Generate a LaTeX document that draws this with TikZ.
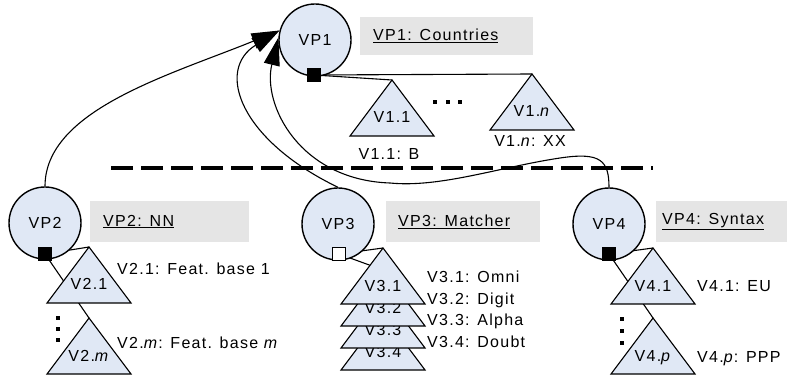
\documentclass[tikz,border=0pt]{standalone}
\usepackage{fontspec}
\setmainfont{Liberation Sans}[LetterSpace=8]
\usetikzlibrary{arrows.meta,calc,backgrounds}
\definecolor{vpfill}{RGB}{224,232,245}
\definecolor{boxgray}{RGB}{229,229,229}

% variant triangle: name, apex, caption
\newcommand\vtri[3]{%
  \coordinate (#1) at #2;
  \filldraw[varbody] (#1) -- ++(42,56) -- ++(-84,0) -- cycle;
  \node[vartext] (#1-name) at ($(#1)+(0,43)$) {#3};}

\begin{document}
\begin{tikzpicture}[x=1pt,y=-1pt,
  font=\fontsize{16}{19}\selectfont,
  vp/.style={circle,draw,fill=vpfill,line width=1.4pt,minimum size=72pt,inner sep=0pt},
  knot/.style={rectangle,draw,fill=black,line width=0.8pt,minimum size=13pt,inner sep=0pt},
  varbody/.style={draw,fill=vpfill,line width=1.1pt,line join=miter},
  vartext/.style={anchor=base,inner sep=0pt},
  lbox/.style={fill=boxgray,align=left,inner ysep=0pt,anchor=north west},
  lab/.style={anchor=base west,inner sep=0pt},
  conn/.style={line width=1.1pt},
  arr/.style={conn,-{Triangle[length=28pt,width=16pt]}},
  sepline/.style={line width=4pt,dash pattern=on 22pt off 8pt},
  dotsq/.style={fill=black}]
\useasboundingbox (0,0) rectangle (787,379);

% separator between the top level and the nested variation points
\coordinate (sepL) at (111,168);
\coordinate (sepR) at (653,168);
\draw[sepline] (sepL) -- (sepR);

% variation points
\node[vp] (vp1) at (315,40) {VP1};
\node[vp] (vp2) at (45,223) {VP2};
\node[vp] (vp3) at (338,224) {VP3};
\node[vp] (vp4) at (609,224) {VP4};

% binding knots
\node[knot] (k1) at (314,75) {};
\node[knot] (k2) at (45,254) {};
\node[knot,fill=white] (k3) at (339,254) {};
\node[knot] (k4) at (609,254) {};

% descriptions
\node[lbox,inner xsep=13pt,text width=147pt,minimum height=38pt] (d1) at (360,17) {\underline{VP1: Countries}};
\node[lbox,inner xsep=13pt,text width=133pt,minimum height=41pt] (d2) at (90,201) {\underline{VP2: NN}};
\node[lbox,inner xsep=12pt,text width=130pt,minimum height=41pt] (d3) at (386,201) {\underline{VP3: Matcher}};
\node[lbox,inner xsep=6pt,text width=119pt,minimum height=41pt] (d4) at (656,201) {\underline{VP4: Syntax}};

% variants
\vtri{v11}{(392,80)}{V1.1}
\vtri{v1n}{(532,74)}{V1.\textit{n}}
\vtri{v21}{(89,247)}{V2.1}
\vtri{v2m}{(89,318)}{V2.\textit{m}}
\vtri{v34}{(383,314)}{V3.4}
\vtri{v33}{(383,292)}{V3.3}
\vtri{v32}{(383,270)}{V3.2}
\vtri{v31}{(383,248)}{V3.1}
\vtri{v41}{(653,248)}{V4.1}
\vtri{v4p}{(653,318)}{V4.\textit{p}}

% variant captions
\node[vartext] (l11) at (389,160) {V1.1: B};
\node[vartext] (l1n) at (530,147) {V1.\textit{n}: XX};
\node[lab] (l21) at (117,275) {V2.1: Feat. base 1};
\node[lab] (l2m) at (117,348) {V2.\textit{m}: Feat. base \textit{m}};
\node[lab] (l31) at (427,283) {V3.1: Omni};
\node[lab] (l32) at (427,304.5) {V3.2: Digit};
\node[lab] (l33) at (427,326) {V3.3: Alpha};
\node[lab] (l34) at (427,347.5) {V3.4: Doubt};
\node[lab] (l41) at (697,291) {V4.1: EU};
\node[lab] (l4p) at (697,362) {V4.\textit{p}: PPP};

% ellipses
\foreach \px/\py in {435/102,448/102,460/102,58/318,58/329,58/340,622/319,622/331,622/343}
  \fill[dotsq] (\px-1.8,\py-1.8) rectangle (\px+1.8,\py+1.8);

% connectors behind the shapes
\begin{scope}[on background layer]
  \draw[conn] (k1.center) -- (v11);
  \draw[conn] (k1.center) -- (v1n);
  \draw[conn] (k2.center) -- (v21);
  \draw[conn] (k2.center) -- (v2m);
  \draw[conn] (k3.center) -- (v31);
  \draw[conn] (k3.center) -- (v32);
  \draw[conn] (k4.center) -- (v41);
  \draw[conn] (k4.center) -- (v4p);
  \draw[arr] (vp2.north) .. controls (45,110) and (170,75) .. (vp1.165);
  \draw[arr] (vp3.north) .. controls (240,140) and (215,70) .. (vp1.165);
  \draw[arr] (vp4.north) .. controls (609,160) and (600,152) .. (560,158)
    .. controls (500,167) and (440,188) .. (390,183)
    .. controls (300,180) and (262,105) .. (vp1.176);
\end{scope}
\end{tikzpicture}
\end{document}
